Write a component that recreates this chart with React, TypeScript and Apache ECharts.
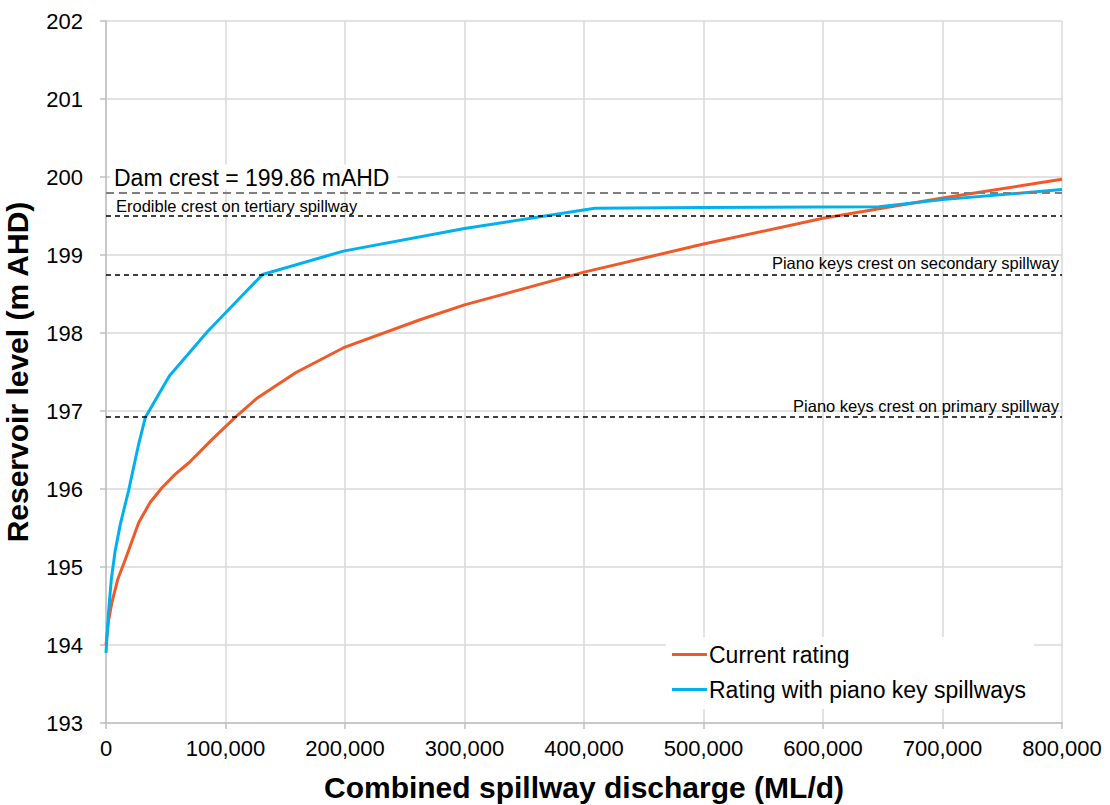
import React, { useEffect, useRef } from "react";
import * as echarts from "echarts";

const currentX = [0, 2000, 5000, 10000, 16000, 27400, 37000, 47000, 58000, 69600, 89000, 109000, 126000, 158600, 200000, 262800, 300000, 400000, 500000, 600000, 700000, 800000];
const currentY = [194.0, 194.3, 194.55, 194.85, 195.09, 195.57, 195.83, 196.02, 196.19, 196.34, 196.64, 196.93, 197.16, 197.49, 197.82, 198.17, 198.36, 198.78, 199.14, 199.47, 199.73, 199.97];

const pianoX = [0, 2000, 4500, 7600, 12000, 18900, 27400, 33000, 53000, 85000, 114000, 131000, 198600, 300000, 409000, 500000, 647000, 700000, 800000];
const pianoY = [193.9, 194.4, 194.85, 195.2, 195.55, 195.98, 196.58, 196.92, 197.45, 198.02, 198.48, 198.75, 199.05, 199.34, 199.6, 199.61, 199.62, 199.71, 199.84];

const seriesNames = ["Current rating", "Rating with piano key spillways"];

const damCrestLevel = 199.8;
const damCrestLabel = "Dam crest = 199.86 mAHD";
const refLevels = [199.5, 198.75, 196.92];
const refLabels = [
  "Erodible crest on tertiary spillway",
  "Piano keys crest on secondary spillway",
  "Piano keys crest on primary spillway",
];

const xTitle = "Combined spillway discharge (ML/d)";
const yTitle = "Reservoir level (m AHD)";

const FONT = "Liberation Sans, Arial, sans-serif";

export default function App() {
  const ref = useRef<HTMLDivElement>(null);
  useEffect(() => {
    document.body.style.margin = "0";
    const chart = echarts.init(ref.current!, null, { renderer: "svg" });
    const pair = (xs: number[], ys: number[]) => xs.map((x, i) => [x, ys[i]]);
    const blackLine = { color: "#000", width: 1.5, type: [5, 4] as any };
    const option: any = {
      animation: false,
      textStyle: { fontFamily: FONT },
      grid: { left: 106, right: 48, top: 21, bottom: 82, outerBoundsMode: "none", containLabel: false },
      xAxis: {
        type: "value",
        min: 0,
        max: 800000,
        interval: 100000,
        name: xTitle,
        nameLocation: "middle",
        nameGap: 49,
        nameTextStyle: { fontSize: 30, fontWeight: "bold", color: "#000", fontFamily: FONT },
        axisLine: { show: true, lineStyle: { color: "#bfbfbf", width: 1.5 } },
        axisTick: { show: true, length: 6, lineStyle: { color: "#bfbfbf", width: 1.5 } },
        axisLabel: {
          fontSize: 22,
          color: "#000",
          margin: 14,
          fontFamily: FONT,
          formatter: (v: number) => v.toLocaleString("en-US"),
        },
        splitLine: { show: true, lineStyle: { color: "#d9d9d9", width: 1.5 } },
      },
      yAxis: {
        type: "value",
        min: 193,
        max: 202,
        interval: 1,
        name: yTitle,
        nameLocation: "middle",
        nameGap: 74,
        nameTextStyle: { fontSize: 30, fontWeight: "bold", color: "#000", fontFamily: FONT },
        axisLine: { show: true, lineStyle: { color: "#bfbfbf", width: 1.5 } },
        axisTick: { show: true, length: 6, lineStyle: { color: "#bfbfbf", width: 1.5 } },
        axisLabel: { fontSize: 22, color: "#000", margin: 23, fontFamily: FONT },
        splitLine: { show: true, lineStyle: { color: "#d9d9d9", width: 1.5 } },
      },
      legend: {
        orient: "vertical",
        left: 666,
        top: 637,
        padding: [6, 8, 8, 6],
        itemGap: 12,
        itemWidth: 35,
        itemHeight: 3,
        backgroundColor: "#fff",
        textStyle: { fontSize: 23, color: "#000", fontFamily: FONT, padding: [0, 0, 0, -3] },
        data: [
          { name: seriesNames[0], icon: "rect" },
          { name: seriesNames[1], icon: "rect" },
        ],
      },
      series: [
        {
          name: "refs",
          type: "line",
          data: [],
          silent: true,
          z: 1,
          markLine: {
            silent: true,
            symbol: "none",
            animation: false,
            data: [
              {
                yAxis: damCrestLevel,
                lineStyle: { color: "#7f7f7f", width: 2, type: [8, 5] },
                label: {
                  show: true,
                  position: "insideStartTop",
                  formatter: damCrestLabel,
                  fontSize: 23,
                  color: "#000",
                  fontFamily: FONT,
                  backgroundColor: "#fff",
                  padding: [2, 8, 0, 4],
                  distance: [4, 3],
                },
              },
              {
                yAxis: refLevels[0],
                lineStyle: blackLine,
                label: {
                  show: true,
                  position: "insideStartTop",
                  formatter: refLabels[0],
                  fontSize: 16.5,
                  color: "#000",
                  fontFamily: FONT,
                  distance: [10, 2],
                },
              },
              {
                yAxis: refLevels[1],
                lineStyle: blackLine,
                label: {
                  show: true,
                  position: "insideEndTop",
                  formatter: refLabels[1],
                  fontSize: 16.5,
                  color: "#000",
                  fontFamily: FONT,
                  distance: [3, 3],
                },
              },
              {
                yAxis: refLevels[2],
                lineStyle: blackLine,
                label: {
                  show: true,
                  position: "insideEndTop",
                  formatter: refLabels[2],
                  fontSize: 16.5,
                  color: "#000",
                  fontFamily: FONT,
                  distance: [3, 3],
                },
              },
            ],
          },
        },
        {
          name: seriesNames[0],
          type: "line",
          data: pair(currentX, currentY),
          showSymbol: false,
          symbol: "none",
          z: 3,
          lineStyle: { color: "#F05A28", width: 3 },
          itemStyle: { color: "#F05A28" },
        },
        {
          name: seriesNames[1],
          type: "line",
          data: pair(pianoX, pianoY),
          showSymbol: false,
          symbol: "none",
          z: 3,
          lineStyle: { color: "#00B0F0", width: 3 },
          itemStyle: { color: "#00B0F0" },
        },
      ],
    };
    chart.setOption(option);
    return () => chart.dispose();
  }, []);
  return <div ref={ref} style={{ width: 1110, height: 805 }} />;
}
